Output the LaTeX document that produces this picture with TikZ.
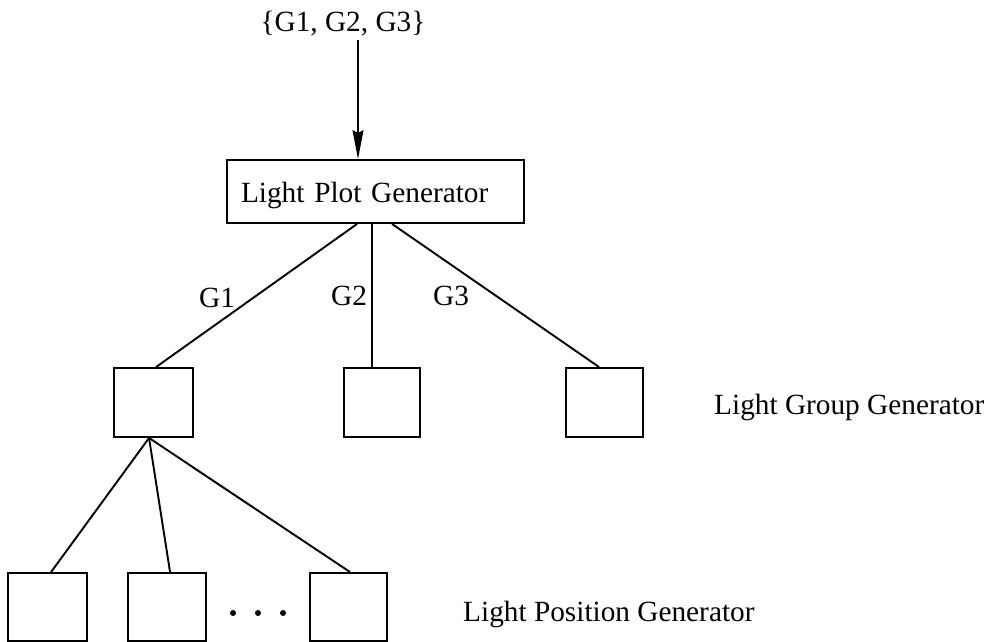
\documentclass[tikz,border=0pt]{standalone}
\usepackage{fontspec}
\setmainfont{Liberation Serif}
\usetikzlibrary{arrows.meta}
\begin{document}
\begin{tikzpicture}[x=1pt,y=-1pt,
  every node/.style={font=\fontsize{29.3}{34}\selectfont},
  wire/.style={line width=1.9pt},
  block/.style={draw, line width=1.9pt, inner sep=0pt, minimum height=69pt},
  tag/.style={anchor=base west, inner sep=0pt}]
\useasboundingbox (0,0) rectangle (993,642);

% input set and top-level generator
\node[anchor=base, inner sep=0pt] (input) at (343,32) {\{G1, G2, G3\}};
\node[block, minimum width=297pt, minimum height=63pt, text width=269pt,
      align=left, text height=21pt, text depth=0pt] (plot) at (375.5,191.5)
      {Light Plot Generator};
\draw[line width=1.2pt, -{Stealth[length=29pt,width=11pt,inset=3pt]}]
  (input.south -| plot.north) ++(-17.5,3) coordinate (src) -- (src |- plot.north);

% light group generators
\node[block, minimum width=79pt] (g1) at (153.5,402.5) {};
\node[block, minimum width=76pt] (g2) at (382,402.5) {};
\node[block, minimum width=77pt] (g3) at (604.5,402.5) {};

\draw[wire] ([xshift=131pt]plot.south west) -- ([xshift=43pt]g1.north west);
\draw[wire] ([xshift=146pt]plot.south west) -- ([xshift=29pt]g2.north west);
\draw[wire] ([xshift=166pt]plot.south west) -- ([xshift=34pt]g3.north west);

\node[tag] (lg1) at (199,307) {G1};
\node[tag] (lg2) at (331,305) {G2};
\node[tag] (lg3) at (433,305) {G3};

% light position generators
\node[block, minimum width=79pt, minimum height=68pt] (pa) at (47.5,607) {};
\node[block, minimum width=78pt, minimum height=68pt] (pb) at (167,607) {};
\node[block, minimum width=77pt, minimum height=68pt] (pc) at (348.5,607) {};

\draw[wire] ([xshift=36pt]g1.south west) -- ([xshift=44pt]pa.north west);
\draw[wire] ([xshift=36pt]g1.south west) -- ([xshift=43pt]pb.north west);
\draw[wire] ([xshift=36pt]g1.south west) -- ([xshift=41pt]pc.north west);

\foreach \dx in {233,258,283} \fill (\dx,613) circle (3pt);

% level captions
\node[tag] (cgroup) at (714,414) {Light Group Generator};
\node[tag] (cpos) at (463,621) {Light Position Generator};
\end{tikzpicture}
\end{document}
